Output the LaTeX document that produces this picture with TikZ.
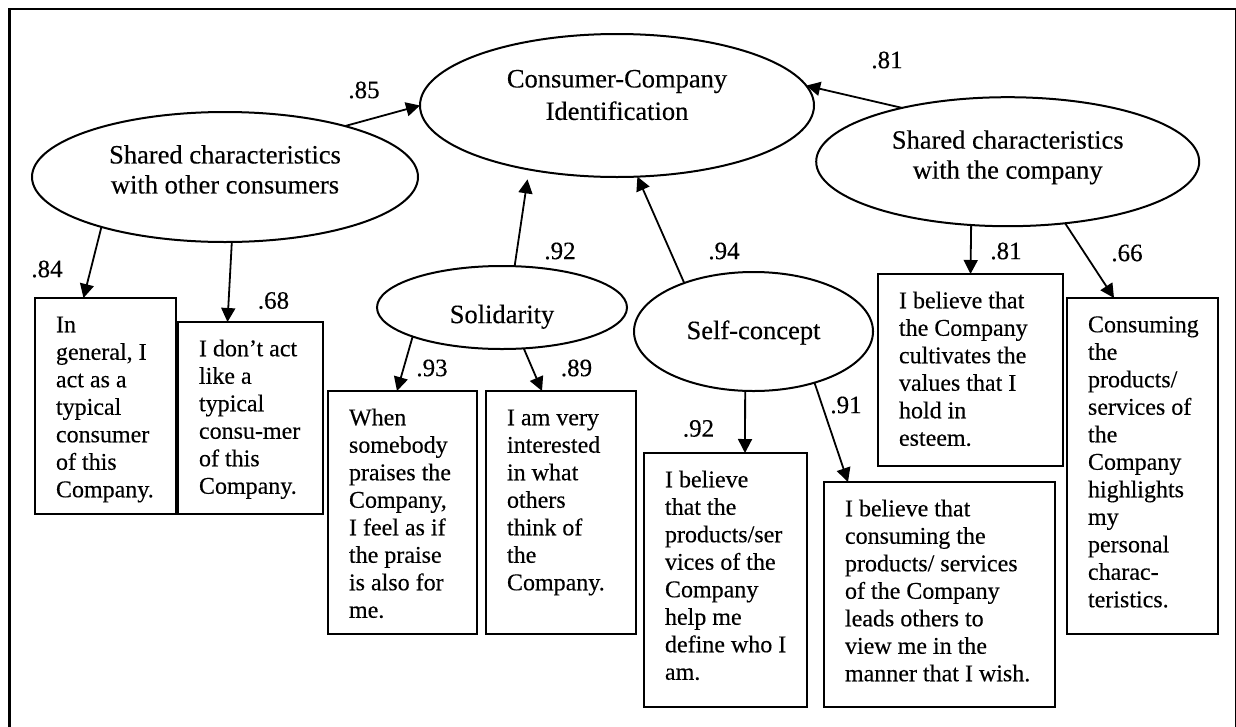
\documentclass[tikz,border=0pt]{standalone}
\usepackage{fontspec}
\setmainfont{Liberation Serif}[FakeBold=0.3]
\usetikzlibrary{
    arrows.meta,
    shapes.geometric
}

\newcommand{\lattext}[2]{\raisebox{#1}[0pt][0pt]{\fontsize{26.5}{30}\selectfont
    \begin{tabular}{@{}c@{}}#2\end{tabular}}}
\newcommand{\itemtext}[3]{\parbox[t][\dimexpr#2-30pt\relax][t]{\dimexpr#1-42pt\relax}{%
    \fontsize{24}{27.5}\selectfont\begin{tabular}[t]{@{}l@{}}#3\end{tabular}}}

\begin{document}
\begin{tikzpicture}[x=1pt, y=-1pt,
    latent/.style={draw, ellipse, line width=2pt, inner sep=0pt, outer sep=0pt},
    item/.style={draw, line width=2.2pt, anchor=north west, inner xsep=21pt, inner ysep=15pt, outer sep=0pt},
    coef/.style={inner sep=0pt, font=\fontsize{25}{30}\selectfont},
    link/.style={line width=1.8pt, -{Triangle[length=14pt, width=14pt]}}]
    \useasboundingbox (0,0) rectangle (1236,726);
    \clip (0,0) rectangle (1236,726);
    \draw[line width=2.5pt] (9.5,9) rectangle (1236,740);

    \node[latent, minimum width=394pt, minimum height=143pt] (cci) at (617,105.5)
        {\lattext{1.6pt}{Consumer-Company\\[2.5pt] Identification}};
    \node[latent, minimum width=386pt, minimum height=130pt] (scoc) at (225,177)
        {\lattext{-1.7pt}{Shared characteristics\\ with other consumers}};
    \node[latent, minimum width=383pt, minimum height=129pt] (scwc) at (1007.7,161.7)
        {\lattext{-2.2pt}{Shared characteristics\\ with the company}};
    \node[latent, minimum width=250pt, minimum height=83pt] (sol) at (502,307.5)
        {\lattext{-15.8pt}{Solidarity}};
    \node[latent, minimum width=239pt, minimum height=119pt] (self) at (753.5,331.5)
        {\lattext{-7.8pt}{Self-concept}};

    \node[item] (b1) at (35,298) {\itemtext{141pt}{216pt}{In\\ general, I\\ act as a\\ typical\\ consumer\\ of this\\ Company.}};
    \node[item] (b2) at (178,322) {\itemtext{145pt}{192pt}{I don’t act\\ like a\\ typical\\ consu-mer\\ of this\\ Company.}};
    \node[item] (b3) at (328,391) {\itemtext{149pt}{243pt}{When\\ somebody\\ praises the\\ Company,\\ I feel as if\\ the praise\\ is also for\\ me.}};
    \node[item] (b4) at (486,391) {\itemtext{150pt}{243pt}{I am very\\ interested\\ in what\\ others\\ think of\\ the\\ Company.}};
    \node[item] (b5) at (644,453) {\itemtext{163pt}{254pt}{I believe\\ that the\\ products/ser\\ vices of the\\ Company\\ help me\\ define who I\\ am.}};
    \node[item] (b6) at (824,482) {\itemtext{231pt}{225pt}{I believe that\\ consuming the\\ products/ services\\ of the Company\\ leads others to\\ view me in the\\ manner that I wish.}};
    \node[item] (b7) at (878,274) {\itemtext{185pt}{192pt}{I believe that\\ the Company\\ cultivates the\\ values that I\\ hold in\\ esteem.}};
    \node[item] (b8) at (1067,298) {\itemtext{151pt}{336pt}{Consuming\\ the\\ products/\\ services of\\ the\\ Company\\ highlights\\ my\\ personal\\ charac-\\ teristics.}};

    \draw[link] (scoc.23) -- (cci.180);
    \draw[link] (scoc.202) -- ([xshift=-22pt]b1.north);
    \draw[link] (scoc.276) -- ([xshift=-23pt]b2.north);
    \draw[link, shorten >=10pt] (sol.73) -- (cci.216);
    \draw[link] (sol.198) -- ([xshift=-5.5pt]b3.north);
    \draw[link] (sol.298) -- ([xshift=-19pt]b4.north);
    \draw[link] (self.145) -- (cci.286);
    \draw[link] (self.262) -- ([xshift=19.5pt]b5.north);
    \draw[link] (self.320) -- ([xshift=24pt]b6.north west);
    \draw[link] (scwc.153) -- (cci.6);
    \draw[link] (scwc.240) -- (b7.north);
    \draw[link] (scwc.313) -- ([xshift=-28.5pt]b8.north);

    \node[coef] (c85) at (364,90) {.85};
    \node[coef] (c84) at (47,269) {.84};
    \node[coef] (c68) at (273.5,300.5) {.68};
    \node[coef] (c92a) at (560,251) {.92};
    \node[coef] (c93) at (432,368) {.93};
    \node[coef] (c89) at (576.5,368) {.89};
    \node[coef] (c94) at (724,251) {.94};
    \node[coef] (c92b) at (698.5,428.5) {.92};
    \node[coef] (c91) at (846,405) {.91};
    \node[coef] (c81a) at (887,60) {.81};
    \node[coef] (c81b) at (1006,251) {.81};
    \node[coef] (c66) at (1127,253) {.66};
\end{tikzpicture}
\end{document}
